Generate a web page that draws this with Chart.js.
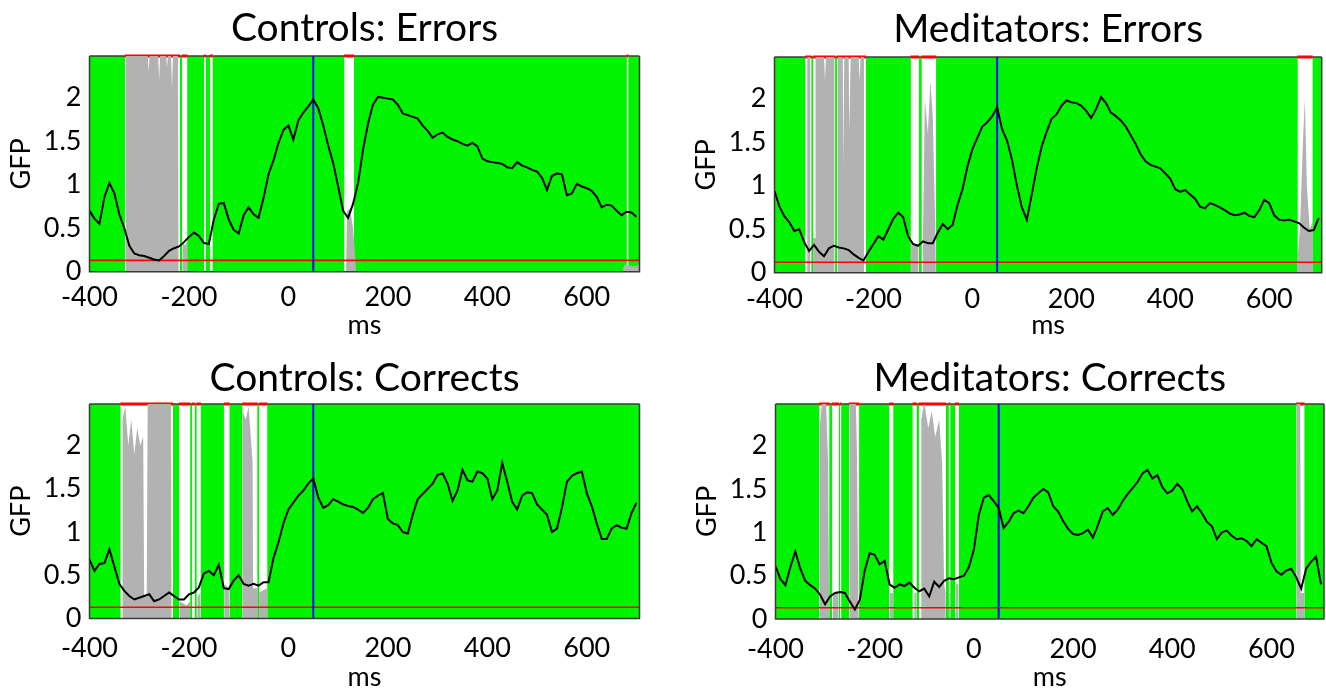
<!DOCTYPE html>
<html>
<head>
<meta charset="utf-8">
<script src="https://cdn.jsdelivr.net/npm/chart.js@4.4.1/dist/chart.umd.min.js"></script>
<style>
    html, body { margin: 0; padding: 0; background: #fff; }
    body { position: relative; width: 1326px; height: 688px; overflow: hidden; }
    canvas { position: absolute; }
</style>
</head>
<body>
<canvas id="ctlErr"></canvas>
<canvas id="medErr"></canvas>
<canvas id="ctlCor"></canvas>
<canvas id="medCor"></canvas>
<script>
// Eixo do tempo (ms), amostras a cada 10 ms
const timesMs = [-400,-390,-380,-370,-360,-350,-340,-330,-320,-310,
    -300,-290,-280,-270,-260,-250,-240,-230,-220,-210,
    -200,-190,-180,-170,-160,-150,-140,-130,-120,-110,
    -100,-90,-80,-70,-60,-50,-40,-30,-20,-10,
    0,10,20,30,40,50,60,70,80,90,
    100,110,120,130,140,150,160,170,180,190,
    200,210,220,230,240,250,260,270,280,290,
    300,310,320,330,340,350,360,370,380,390,
    400,410,420,430,440,450,460,470,480,490,
    500,510,520,530,540,550,560,570,580,590,
    600,610,620,630,640,650,660,670,680,690,
    700];

const xTicks = [-400, -200, 0, 200, 400, 600];
const yTicks = [0, 0.5, 1, 1.5, 2];

// GFP de cada grupo / condição
const ctlErrGfp = [0.70,0.61,0.55,0.86,1.02,0.90,0.66,0.50,0.30,0.21,
    0.19,0.18,0.16,0.14,0.13,0.18,0.24,0.27,0.29,0.34,
    0.40,0.45,0.41,0.33,0.32,0.60,0.78,0.79,0.60,0.48,
    0.44,0.65,0.74,0.66,0.62,0.85,1.12,1.28,1.48,1.63,
    1.68,1.52,1.74,1.83,1.90,1.98,1.88,1.68,1.45,1.25,
    0.98,0.70,0.62,0.78,1.02,1.40,1.70,1.92,2.01,2.00,
    1.99,1.98,1.92,1.82,1.80,1.78,1.76,1.68,1.62,1.54,
    1.58,1.60,1.55,1.52,1.50,1.47,1.45,1.48,1.44,1.30,
    1.27,1.26,1.25,1.24,1.20,1.19,1.26,1.22,1.20,1.17,
    1.15,1.08,0.94,1.10,1.13,1.12,0.88,0.90,1.01,0.98,
    0.96,0.93,0.86,0.74,0.77,0.76,0.70,0.65,0.69,0.68,
    0.63];

const medErrGfp = [0.94,0.76,0.65,0.58,0.48,0.50,0.35,0.25,0.32,0.24,
    0.19,0.28,0.31,0.29,0.28,0.26,0.21,0.17,0.14,0.24,
    0.33,0.42,0.38,0.50,0.62,0.69,0.64,0.42,0.33,0.31,
    0.36,0.34,0.34,0.46,0.56,0.50,0.55,0.78,0.96,1.22,
    1.42,1.55,1.68,1.73,1.80,1.90,1.65,1.52,1.30,1.00,
    0.75,0.61,0.90,1.20,1.45,1.62,1.77,1.82,1.92,1.98,
    1.96,1.95,1.92,1.86,1.78,1.88,2.02,1.95,1.84,1.80,
    1.75,1.68,1.58,1.48,1.36,1.28,1.24,1.22,1.20,1.14,
    1.08,0.96,0.93,0.95,0.90,0.85,0.76,0.74,0.80,0.78,
    0.75,0.72,0.68,0.66,0.67,0.69,0.65,0.64,0.72,0.84,
    0.80,0.66,0.61,0.60,0.61,0.59,0.57,0.52,0.48,0.49,
    0.63];

const ctlCorGfp = [0.68,0.55,0.63,0.64,0.80,0.60,0.40,0.32,0.26,0.22,
    0.24,0.26,0.28,0.20,0.22,0.26,0.30,0.26,0.22,0.22,
    0.28,0.30,0.36,0.52,0.55,0.50,0.62,0.35,0.34,0.44,
    0.50,0.40,0.38,0.40,0.38,0.42,0.42,0.70,0.88,1.10,
    1.26,1.34,1.42,1.48,1.56,1.62,1.40,1.28,1.31,1.38,
    1.35,1.32,1.30,1.29,1.26,1.22,1.28,1.38,1.42,1.45,
    1.15,1.10,1.08,1.00,0.98,1.20,1.38,1.44,1.50,1.56,
    1.66,1.68,1.56,1.36,1.48,1.72,1.60,1.58,1.70,1.68,
    1.62,1.38,1.48,1.80,1.58,1.35,1.26,1.42,1.46,1.45,
    1.32,1.26,1.20,1.00,1.04,1.28,1.58,1.65,1.68,1.70,
    1.45,1.30,1.10,0.92,0.92,1.04,1.08,1.05,1.04,1.22,
    1.34];

const medCorGfp = [0.61,0.46,0.39,0.60,0.78,0.58,0.44,0.39,0.35,0.28,
    0.17,0.26,0.30,0.31,0.30,0.20,0.11,0.22,0.56,0.76,
    0.74,0.63,0.67,0.40,0.36,0.40,0.38,0.42,0.36,0.32,
    0.35,0.26,0.43,0.37,0.44,0.47,0.46,0.48,0.50,0.60,
    0.80,1.20,1.40,1.43,1.36,1.28,1.05,1.12,1.22,1.25,
    1.22,1.30,1.40,1.45,1.50,1.46,1.30,1.24,1.13,1.04,
    0.98,0.97,0.99,1.03,0.94,1.08,1.24,1.28,1.20,1.26,
    1.36,1.44,1.51,1.58,1.68,1.72,1.62,1.66,1.52,1.45,
    1.48,1.56,1.50,1.36,1.24,1.30,1.22,1.12,1.07,0.92,
    1.00,1.02,0.96,0.92,0.93,0.90,0.84,0.92,0.88,0.84,
    0.65,0.55,0.51,0.56,0.58,0.48,0.35,0.58,0.66,0.72,
    0.40];

// Intervalos não significativos (faixas brancas), em ms
const ctlErrBands = [[-329,-218],[-214,-203],[-170,-166],[-158,-152],[112,132],[680,684]];
const medErrBands = [[-338,-325],[-322,-277],[-274,-215],[-125,-108],[-103,-73],[657,688]];
const ctlCorBands = [[-338,-232],[-220,-197],[-194,-188],[-185,-176],[-130,-118],[-93,-62],[-59,-42]];
const medCorBands = [[-312,-291],[-286,-272],[-270,-267],[-252,-231],[-171,-162],[-124,-115],[-111,-56],[-51,-47],[-38,-30],[650,667]];

// Contorno da área cinza (ms, altura)
const ctlErrGrayT = [-327,-327,-283,-281,-279,-262,-260,-258,-246,-244,-242,-236,-234,-232,-222,-221,-213,-213,-208,-204,-204,116,118,124,130,134,136,672,675,700,706,706];
const ctlErrGrayV = [0,2.5,2.5,2.3,2.5,2.5,2.2,2.5,2.5,2.35,2.5,2.5,2.1,2.5,2.5,0,0,0.35,0.30,0.35,0,0,0.70,0.72,0.50,0.20,0,0,0.08,0.06,0.10,0];

const medErrGrayT = [-334,-334,-328,-328,-322,-322,-318,-317,-312,-300,-298,-296,-279,-279,-272,-272,-262,-261,-259,-250,-249,-246,-230,-228,-226,-219,-219,-124,-124,-110,-110,-100,-100,-96,-90,-85,-80,-75,-74,655,656,662,668,672,676,682,688,689];
const medErrGrayV = [0,2.5,2.5,0,0,0.4,0.4,2.5,2.5,2.5,2.2,2.5,2.5,0,0,2.5,2.5,1.2,2.5,2.5,1.6,2.5,2.5,2.2,2.5,2.5,0,0,0.35,0.30,0,0,0.4,2.0,1.6,2.2,1.8,0.5,0,0,0.1,0.5,1.5,2.0,1.0,0.5,0.6,0];

const ctlCorGrayT = [-334,-334,-328,-322,-316,-310,-304,-298,-292,-290,-285,-283,-236,-235,-218,-218,-205,-198,-198,-183,-183,-177,-177,-129,-129,-120,-119,-92,-92,-86,-80,-72,-71,-62,-62,-59,-59,-43,-42];
const ctlCorGrayV = [0,2.3,2.45,2.0,2.3,1.9,2.2,2.0,2.1,0.25,0.25,2.5,2.5,0,0,0.2,0.15,0.2,0,0,0.25,0.3,0,0,0.4,0.35,0,0,2.4,2.3,2.45,1.8,0.35,0.35,0,0,0.3,0.35,0];

const medCorGrayT = [-311,-311,-306,-298,-294,-292,-291,-284,-284,-273,-273,-251,-251,-238,-236,-233,-232,-170,-170,-163,-163,-120,-120,-116,-116,-106,-106,-100,-92,-85,-78,-70,-64,-60,-57,-57,-50,-50,-48,-48,-37,-37,-31,-31,650,651,658,659,666,667];
const medCorGrayV = [0,2.2,2.5,2.5,1.8,0.3,0,0,0.3,0.3,0,0,2.5,2.5,2.0,0.2,0,0,0.3,0.3,0,0,0.3,0.3,0,0,2.3,2.5,2.2,2.4,2.1,2.3,1.8,0.4,0.3,0,0,0.3,0.3,0,0,0.4,0.4,0,0,2.5,2.5,0.3,0.3,0];

// Limiar (linha vermelha) e marcador (linha azul)
const thresholds = [0.13, 0.12, 0.13, 0.13];
const markerMs = [50, 50, 50, 50];

const X_MIN = -400, X_MAX = 706, Y_MAX = 2.48;
const FONT = 'Lato';

// Posição de cada painel na página
const panels = [
    { id: 'ctlErr', title: 'Controls: Errors',   gfp: ctlErrGfp, bands: ctlErrBands, grayT: ctlErrGrayT, grayV: ctlErrGrayV,
      left: 0,     top: 0,   width: 660,   height: 344, yAxisW: 89.5, titleH: 56, titleTop: 5.5, xAxisH: 72.3, padRight: 20.5, tickPad: 9 },
    { id: 'medErr', title: 'Meditators: Errors', gfp: medErrGfp, bands: medErrBands, grayT: medErrGrayT, grayV: medErrGrayV,
      left: 684.5, top: 0,   width: 641.5, height: 344, yAxisW: 89.5, titleH: 57, titleTop: 6,   xAxisH: 71.3, padRight: 4.3,  tickPad: 10 },
    { id: 'ctlCor', title: 'Controls: Corrects', gfp: ctlCorGfp, bands: ctlCorBands, grayT: ctlCorGrayT, grayV: ctlCorGrayV,
      left: 0,     top: 348, width: 660,   height: 348, yAxisW: 89.5, titleH: 56, titleTop: 7.5, xAxisH: 77.5, padRight: 20.5, tickPad: 14 },
    { id: 'medCor', title: 'Meditators: Corrects', gfp: medCorGfp, bands: medCorBands, grayT: medCorGrayT, grayV: medCorGrayV,
      left: 686,   top: 348, width: 640,   height: 348, yAxisW: 89.5, titleH: 56, titleTop: 7.5, xAxisH: 77,   padRight: 2,    tickPad: 14 }
];

// Fundo verde da área do gráfico e moldura (topo antes das séries, para o vermelho ficar por cima)
const plotFrame = {
    id: 'plotFrame',
    beforeDatasetsDraw(chart) {
        const { ctx, chartArea: a } = chart;
        ctx.save();
        ctx.fillStyle = '#00f400';
        ctx.fillRect(a.left, a.top, a.width, a.height);
        ctx.strokeStyle = '#3a3a3a';
        ctx.lineWidth = 1.5;
        ctx.beginPath();
        ctx.moveTo(a.left, a.top);
        ctx.lineTo(a.right, a.top);
        ctx.stroke();
        ctx.restore();
    },
    afterDatasetsDraw(chart) {
        const { ctx, chartArea: a } = chart;
        ctx.save();
        ctx.strokeStyle = '#3a3a3a';
        ctx.lineWidth = 1.5;
        ctx.beginPath();
        ctx.moveTo(a.left, a.top);
        ctx.lineTo(a.left, a.bottom);
        ctx.lineTo(a.right, a.bottom);
        ctx.lineTo(a.right, a.top);
        ctx.stroke();
        ctx.restore();
    }
};

function renderPanel(p, idx) {
    const canvas = document.getElementById(p.id);
    canvas.width = p.width;
    canvas.height = p.height;
    canvas.style.left = p.left + 'px';
    canvas.style.top = p.top + 'px';

    const line = {
        data: timesMs.map((t, i) => ({ x: t, y: p.gfp[i] })),
        borderColor: '#000', borderWidth: 2, pointRadius: 0, tension: 0, fill: false, order: 0
    };
    const marker = {
        data: [{ x: markerMs[idx], y: 0 }, { x: markerMs[idx], y: Y_MAX }],
        borderColor: '#0000ff', borderWidth: 2, pointRadius: 0, fill: false, order: 1
    };
    const threshold = {
        data: [{ x: X_MIN, y: thresholds[idx] }, { x: X_MAX, y: thresholds[idx] }],
        borderColor: '#ff0000', borderWidth: 1.6, pointRadius: 0, fill: false, order: 2
    };
    const gray = {
        data: p.grayT.map((t, i) => ({ x: t, y: p.grayV[i] })),
        borderColor: '#b2b2b2', borderWidth: 0, backgroundColor: '#b2b2b2',
        pointRadius: 0, tension: 0, fill: 'origin', order: 3
    };
    // borda vermelha no topo de cada faixa: clip folgado para não cortar a linha
    const bands = p.bands.map(([s, e]) => ({
        data: [{ x: s, y: Y_MAX }, { x: e, y: Y_MAX }],
        borderColor: '#ff0000', borderWidth: 3, backgroundColor: '#ffffff',
        pointRadius: 0, fill: 'origin', order: 4,
        clip: { left: 0, right: 0, top: 4, bottom: 0 }
    }));

    new Chart(canvas, {
        type: 'line',
        data: { datasets: [line, marker, threshold, gray, ...bands] },
        plugins: [plotFrame],
        options: {
            responsive: false,
            animation: false,
            events: [],
            layout: { padding: { left: 0, right: p.padRight, top: 0, bottom: 0 } },
            plugins: {
                legend: { display: false },
                tooltip: { enabled: false },
                title: {
                    display: true, text: p.title, fullSize: false, color: '#000',
                    font: { family: FONT, size: 39, weight: 'normal' },
                    padding: { top: p.titleTop, bottom: p.titleH - p.titleTop - 46.8 }
                }
            },
            scales: {
                x: {
                    type: 'linear', min: X_MIN, max: X_MAX,
                    grid: { display: false, drawTicks: false },
                    border: { display: false },
                    afterBuildTicks: s => { s.ticks = xTicks.map(v => ({ value: v })); },
                    afterFit: s => { s.height = p.xAxisH; },
                    ticks: { color: '#000', font: { family: FONT, size: 27 }, padding: p.tickPad, maxRotation: 0, autoSkip: false },
                    title: { display: true, text: 'ms', color: '#000', font: { family: FONT, size: 27 }, padding: { top: 0, bottom: 2.8 } }
                },
                y: {
                    min: 0, max: Y_MAX,
                    grid: { display: false, drawTicks: false },
                    border: { display: false },
                    afterBuildTicks: s => { s.ticks = yTicks.map(v => ({ value: v })); },
                    afterFit: s => { s.width = p.yAxisW; },
                    ticks: { color: '#000', font: { family: FONT, size: 27 }, padding: 8, callback: v => String(v) },
                    title: { display: true, text: 'GFP', color: '#000', font: { family: FONT, size: 27 }, padding: { top: 5, bottom: 0 } }
                }
            }
        }
    });
}

panels.forEach(renderPanel);
</script>
</body>
</html>
